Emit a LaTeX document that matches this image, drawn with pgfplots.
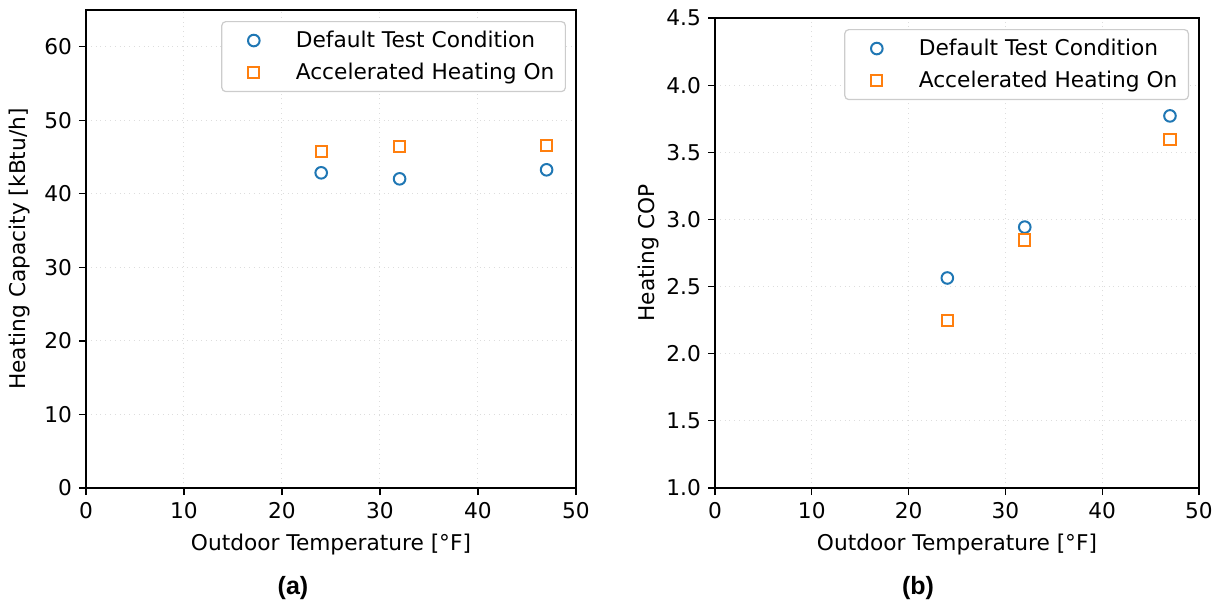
\documentclass[border=0pt]{standalone}
\usepackage{pgfplots}
\pgfplotsset{compat=1.18}
\usepackage{fontspec}
\setmainfont{DejaVu Sans}
\newfontfamily\labfont{Liberation Sans}
\definecolor{mplblue}{HTML}{1F77B4}
\definecolor{mplorange}{HTML}{FF7F0E}
\definecolor{gridc}{HTML}{DDDDDD}
\pgfplotsset{
  myaxis/.style={
    scale only axis,
    anchor=south west,
    font=\fontsize{10.85pt}{13pt}\selectfont,
    /pgf/number format/assume math mode=true,
    xmin=0, xmax=50,
    xtick={0,10,20,30,40,50},
    xtick pos=left, ytick pos=left,
    tick align=outside,
    major tick length=3.5pt,
    every tick/.style={black, line width=0.6pt},
    axis line style={line width=0.6pt},
    grid=major,
    major grid style={gridc, dotted, line width=0.5pt},
    every axis x label/.style={at={(rel axis cs:0.5,0)}, yshift=-28.5pt, anchor=center},
    every axis y label/.style={at={(rel axis cs:0,0.5)}, xshift=-33pt, rotate=90, anchor=center},
    xlabel={Outdoor Temperature [°F]},
    legend cell align=left,
    legend style={at={(1,1)}, anchor=north east, xshift=-5pt, yshift=-5.5pt,
      draw=black!20, rounded corners=2pt, line width=0.6pt,
      font=\fontsize{10.85pt}{13pt}\selectfont,
      inner xsep=5.5pt, inner ysep=4.6pt, row sep=6.3pt,
      nodes={inner sep=0pt},
      /tikz/every odd column/.append style={column sep=16pt}},
    legend image code/.code={\path (0pt,0pt) (14.5pt,0pt); \draw[#1] plot coordinates {(10pt,0pt)};},
  },
  circ/.style={only marks, mark=o, mark size=2.9pt, mplblue, line width=1pt},
  sq/.style={only marks, mark=square, mark size=2.8pt, mplorange, line width=1pt},
}
\begin{document}
\begin{tikzpicture}
\begin{axis}[myaxis, at={(0,0)}, width=245pt, height=239pt,
  ymin=0, ymax=65, ytick={0,10,20,30,40,50,60},
  ylabel={Heating Capacity [kBtu/h]}]
\addplot[circ] coordinates {(24,42.86) (32,42.04) (47,43.27)};
\addlegendentry{Default Test Condition}
\addplot[sq] coordinates {(24,45.76) (32,46.4) (47,46.53)};
\addlegendentry{Accelerated Heating On}
\end{axis}
\begin{axis}[myaxis, at={(314.5pt,0)}, width=242pt, height=235pt,
  ymin=1, ymax=4.5, ytick={1,1.5,2,2.5,3,3.5,4,4.5},
  yticklabel style={/pgf/number format/.cd, fixed, fixed zerofill, precision=1},
  ylabel={Heating COP},
  every axis y label/.style={at={(rel axis cs:0,0.5)}, xshift=-33pt, rotate=90, anchor=center}]
\addplot[circ] coordinates {(24,2.564) (32,2.943) (47,3.771)};
\addlegendentry{Default Test Condition}
\addplot[sq] coordinates {(24,2.248) (32,2.847) (47,3.596)};
\addlegendentry{Accelerated Heating On}
\end{axis}
\node[font=\labfont\bfseries\fontsize{12.5pt}{15pt}\selectfont] at (103.5pt,-50pt) {(a)};
\node[font=\labfont\bfseries\fontsize{12.5pt}{15pt}\selectfont] at (416pt,-50pt) {(b)};
\path (-43pt,-58pt) rectangle (568pt,244pt);
\end{tikzpicture}
\end{document}
